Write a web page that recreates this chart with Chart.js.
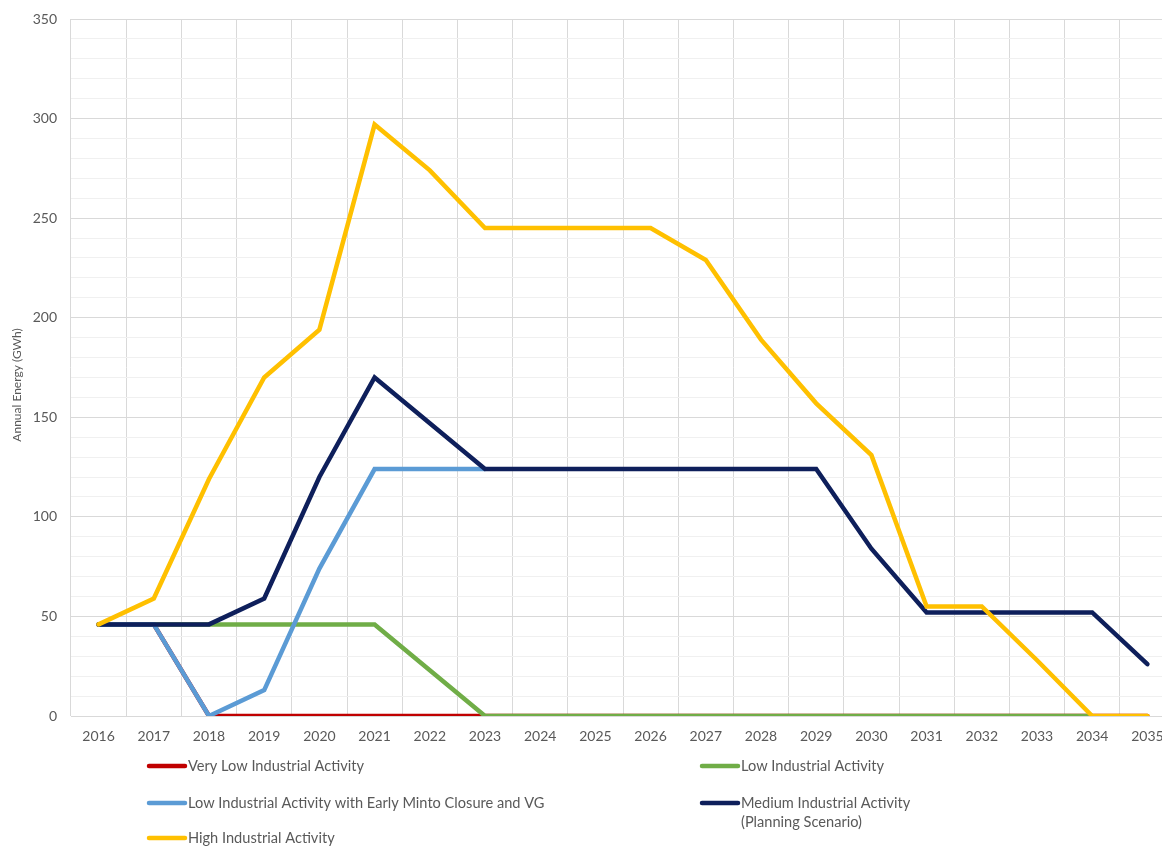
<!DOCTYPE html>
<html>
<head>
<meta charset="utf-8">
<script src="https://cdn.jsdelivr.net/npm/chart.js@4/dist/chart.umd.min.js"></script>
<style>
  html, body { margin: 0; padding: 0; background: #ffffff; overflow: hidden; }
  #wrap { position: relative; width: 1180px; height: 846px; }
</style>
</head>
<body>
<div id="wrap"><canvas id="chart" width="1180" height="846"></canvas></div>
<script>
// Years on the horizontal axis
const years = ['2016','2017','2018','2019','2020','2021','2022','2023','2024','2025',
               '2026','2027','2028','2029','2030','2031','2032','2033','2034','2035'];

// Annual energy (GWh) per scenario
const veryLow = [46, 46, 0, 0, 0, 0, 0, 0, 0, 0, 0, 0, 0, 0, 0, 0, 0, 0, 0, 0];
const low = [46, 46, 46, 46, 46, 46, 23, 0, 0, 0, 0, 0, 0, 0, 0, 0, 0, 0, 0, null];
const lowEarlyMinto = [46, 46, 0, 13, 74, 124, 124, 124, null, null, null, null, null, null, null, null, null, null, null, null];
const medium = [46, 46, 46, 59, 120, 170, 147, 124, 124, 124, 124, 124, 124, 124, 84, 52, 52, 52, 52, 26];
const high = [46, 59, 119, 170, 194, 297, 274, 245, 245, 245, 245, 229, 189, 157, 131, 55, 55, 28, 0, 0];

// Scenario names, in legend order
const scenarioNames = [
  'Very Low Industrial Activity',
  'Low Industrial Activity',
  'Low Industrial Activity with Early Minto Closure and VG',
  'Medium Industrial Activity\n(Planning Scenario)',
  'High Industrial Activity'
];
const scenarioColors = ['#C00000', '#70AD47', '#5B9BD5', '#0E1F5B', '#FFC000'];
const seriesValues = [veryLow, low, lowEarlyMinto, medium, high];

const FONT = 'Lato, "Open Sans", sans-serif';
const TEXT = '#595959';

// Two-column legend under the plot, plus the rotated axis title
const sideText = {
  id: 'sideText',
  afterDraw(chart) {
    const ctx = chart.ctx;
    ctx.save();
    // axis title
    ctx.fillStyle = TEXT;
    ctx.font = '12px ' + FONT;
    ctx.textAlign = 'center';
    ctx.textBaseline = 'middle';
    ctx.translate(17, 385);
    ctx.rotate(-Math.PI / 2);
    ctx.fillText('Annual Energy (GWh)', 0, 0);
    ctx.restore();

    ctx.save();
    const cols = [{ x0: 149, x1: 185, tx: 188 }, { x0: 702, x1: 738, tx: 741 }];
    const rows = [766, 803, 838];
    ctx.font = '14.6px ' + FONT;
    ctx.textAlign = 'left';
    ctx.textBaseline = 'middle';
    chart.data.datasets.forEach((ds, i) => {
      const col = cols[i % 2];
      const y = rows[Math.floor(i / 2)];
      ctx.strokeStyle = ds.borderColor;
      ctx.lineWidth = 4.5;
      ctx.lineCap = 'round';
      ctx.beginPath();
      ctx.moveTo(col.x0, y);
      ctx.lineTo(col.x1, y);
      ctx.stroke();
      ctx.fillStyle = TEXT;
      ds.label.split('\n').forEach((line, k) => {
        ctx.fillText(line, col.tx, y + k * 19);
      });
    });
    ctx.restore();
  }
};

new Chart(document.getElementById('chart'), {
  type: 'line',
  data: {
    labels: years,
    datasets: seriesValues.map((vals, i) => ({
      label: scenarioNames[i],
      data: vals,
      // later scenarios are painted over earlier ones
      order: seriesValues.length - i,
      borderColor: scenarioColors[i],
      backgroundColor: scenarioColors[i],
      borderWidth: 4.5,
      pointRadius: 0,
      pointHoverRadius: 0,
      tension: 0,
      fill: false,
      spanGaps: false,
      borderJoinStyle: 'miter',
      borderCapStyle: 'round'
    }))
  },
  options: {
    responsive: false,
    animation: false,
    layout: { autoPadding: false, padding: { left: 0, top: 19, right: 5, bottom: 95 } },
    plugins: {
      legend: { display: false },
      tooltip: { enabled: false }
    },
    scales: {
      x: {
        offset: true,
        grid: {
          offset: true,
          color: '#D9D9D9',
          lineWidth: 1,
          drawTicks: false
        },
        border: { color: '#D9D9D9' },
        ticks: {
          color: TEXT,
          font: { family: FONT, size: 14 },
          padding: 12,
          maxRotation: 0,
          autoSkip: false
        },
        afterFit(scale) { scale.height = 35; }
      },
      y: {
        min: 0,
        max: 350,
        grid: {
          color: (c) => (c.tick && c.tick.value % 50 === 0) ? '#D9D9D9' : '#F0F0F0',
          lineWidth: 1,
          drawTicks: true,
          tickLength: 14,
          tickColor: 'rgba(0,0,0,0)'
        },
        border: { display: false },
        ticks: {
          stepSize: 10,
          color: TEXT,
          font: { family: FONT, size: 14 },
          padding: 0,
          autoSkip: false,
          callback: (v) => (v % 50 === 0 ? String(v) : '')
        },
        afterFit(scale) { scale.width = 71; }
      }
    }
  },
  plugins: [sideText]
});
</script>
</body>
</html>
